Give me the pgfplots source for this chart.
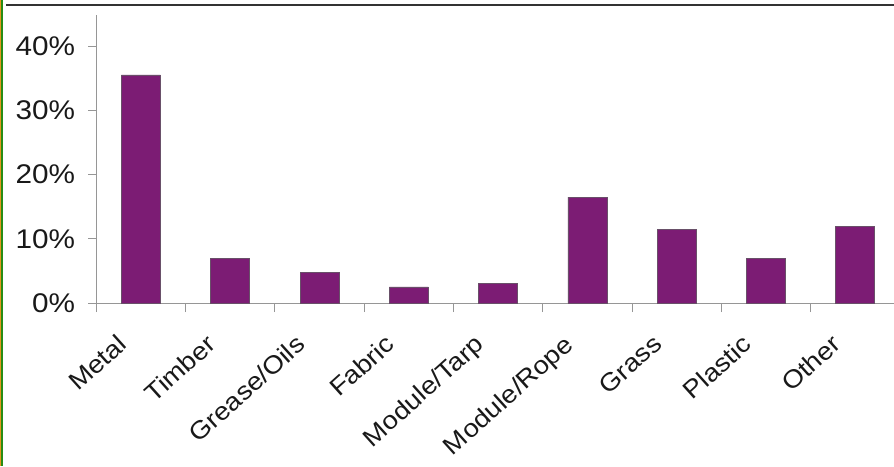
\documentclass[border=0pt]{standalone}
\usepackage{fontspec}
\setmainfont{Liberation Sans}[FakeStretch=1.1]
\usepackage{pgfplots}
\pgfplotsset{compat=1.18}
\definecolor{barpurple}{RGB}{124,28,116}
\definecolor{baredge}{RGB}{105,80,105}
\definecolor{axgray}{RGB}{150,150,150}
\definecolor{frameGreen}{RGB}{40,140,20}
\definecolor{frameOrange}{RGB}{230,150,30}
\begin{document}
\begin{tikzpicture}[x=1pt,y=1pt]
\useasboundingbox (0,0) rectangle (894,466);
\clip (0,0) rectangle (894,466);
\fill[white] (0,0) rectangle (894,466);
\begin{axis}[
  at={(96.3pt,163pt)}, anchor=south west,
  scale only axis,
  width=803.7pt, height=287.8pt,
  xmin=-0.5, xmax=8.5,
  ymin=0, ymax=44.8,
  axis x line=bottom, axis y line=left,
  axis line style={axgray, line width=1pt, -},
  xtick={0,...,8},
  xticklabels={Metal,Timber,Grease/Oils,Fabric,Module/Tarp,Module/Rope,Grass,Plastic,Other},
  major x tick style={draw=none},
  minor xtick={-0.5,0.5,...,8.5},
  minor x tick style={axgray, line width=1pt},
  minor tick length=9pt,
  ytick={0,10,20,30,40},
  yticklabels={0\%,10\%,20\%,30\%,40\%},
  major y tick style={axgray, line width=1pt},
  major tick length=8pt,
  tick align=outside,
  tick label style={font=\fontsize{25}{28}\selectfont, text=black!90},
  yticklabel style={inner sep=0pt, xshift=-13pt, font=\fontsize{27}{30}\selectfont},
  xticklabel style={inner sep=0pt, xshift=-25pt, yshift=-22pt, rotate=42, anchor=north east},
  ybar, bar width=39pt,
  clip=false,
]
\addplot[fill=barpurple, draw=baredge, line width=0.8pt] coordinates {
  (0,35.5) (1,7.0) (2,4.8) (3,2.5) (4,3.1) (5,16.5) (6,11.5) (7,7.0) (8,11.9)
};
\end{axis}
\draw[black!80, line width=2pt] (6,461.3) -- (894,461.3);
\fill[frameOrange] (0,0) rectangle (1,466);
\fill[frameGreen] (1,0) rectangle (2.8,466);
\end{tikzpicture}
\end{document}
